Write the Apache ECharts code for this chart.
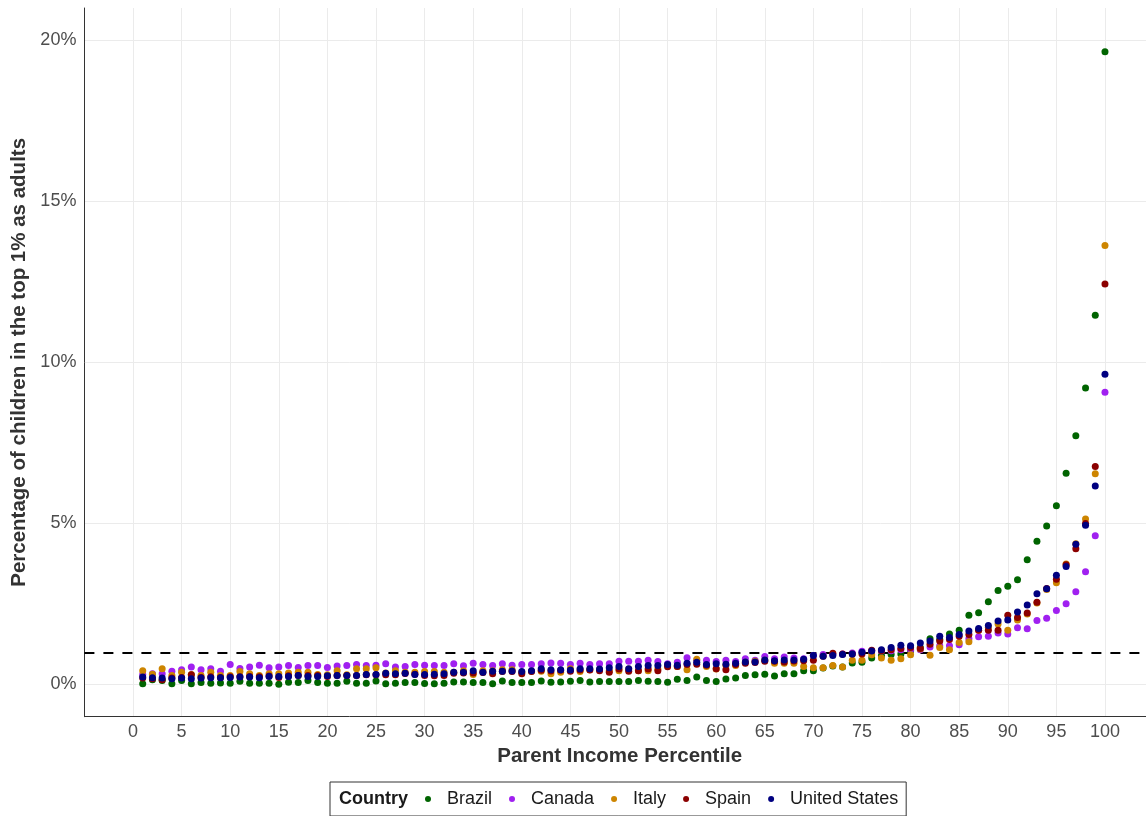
<!DOCTYPE html>
<html>
<head>
<meta charset="utf-8">
<script src="https://cdn.jsdelivr.net/npm/echarts@6/dist/echarts.min.js"></script>
<style>
html,body{margin:0;padding:0;background:#fff;}
#chart{width:1146px;height:816px;}
</style>
</head>
<body>
<div id="chart"></div>
<script>
const percentiles = [1,2,3,4,5,6,7,8,9,10,11,12,13,14,15,16,17,18,19,20,
 21,22,23,24,25,26,27,28,29,30,31,32,33,34,35,36,37,38,39,40,
 41,42,43,44,45,46,47,48,49,50,51,52,53,54,55,56,57,58,59,60,
 61,62,63,64,65,66,67,68,69,70,71,72,73,74,75,76,77,78,79,80,
 81,82,83,84,85,86,87,88,89,90,91,92,93,94,95,96,97,98,99,100];

const brazil = [0.02,0.15,0.12,0.02,0.12,0.02,0.06,0.04,0.05,0.04,
 0.10,0.04,0.04,0.04,0.01,0.07,0.06,0.12,0.06,0.04,
 0.04,0.10,0.04,0.04,0.11,0.02,0.04,0.06,0.06,0.03,
 0.02,0.04,0.08,0.08,0.06,0.06,0.02,0.11,0.06,0.06,
 0.06,0.11,0.07,0.08,0.10,0.12,0.08,0.09,0.09,0.09,
 0.09,0.12,0.10,0.09,0.07,0.16,0.12,0.23,0.12,0.09,
 0.17,0.20,0.28,0.30,0.32,0.26,0.33,0.33,0.43,0.43,
 0.51,0.57,0.54,0.67,0.69,0.82,0.90,0.93,0.95,1.05,
 1.15,1.42,1.40,1.57,1.68,2.15,2.23,2.57,2.92,3.05,
 3.25,3.87,4.45,4.92,5.55,6.56,7.72,9.20,11.46,19.64];

const canada = [0.31,0.33,0.33,0.41,0.46,0.54,0.46,0.49,0.41,0.62,
 0.50,0.54,0.60,0.52,0.54,0.59,0.53,0.59,0.59,0.53,
 0.57,0.59,0.62,0.59,0.60,0.64,0.54,0.56,0.62,0.60,
 0.59,0.59,0.64,0.58,0.66,0.62,0.59,0.64,0.60,0.62,
 0.62,0.64,0.67,0.66,0.62,0.66,0.62,0.64,0.64,0.72,
 0.72,0.72,0.75,0.71,0.64,0.69,0.83,0.75,0.75,0.71,
 0.75,0.71,0.80,0.75,0.87,0.80,0.85,0.82,0.80,0.90,
 0.93,0.93,0.95,0.98,1.03,1.04,1.04,1.05,1.08,1.08,
 1.08,1.16,1.20,1.20,1.23,1.42,1.48,1.50,1.60,1.57,
 1.76,1.73,1.99,2.06,2.30,2.51,2.88,3.50,4.62,9.07];

const italy = [0.43,0.32,0.49,0.28,0.38,0.31,0.28,0.38,0.28,0.28,
 0.40,0.33,0.28,0.33,0.33,0.36,0.38,0.38,0.31,0.30,
 0.43,0.30,0.49,0.49,0.52,0.36,0.43,0.38,0.38,0.40,
 0.40,0.38,0.38,0.43,0.31,0.43,0.43,0.46,0.46,0.38,
 0.41,0.41,0.33,0.38,0.49,0.40,0.46,0.46,0.43,0.43,
 0.48,0.43,0.43,0.48,0.59,0.56,0.46,0.78,0.56,0.48,
 0.59,0.59,0.69,0.72,0.75,0.66,0.66,0.66,0.56,0.52,
 0.52,0.59,0.54,0.75,0.75,0.92,0.82,0.75,0.80,0.92,
 1.10,0.91,1.15,1.08,1.30,1.33,1.68,1.78,1.88,1.68,
 2.00,2.19,2.53,2.95,3.16,3.74,4.37,5.14,6.54,13.63];

const spain = [0.20,0.18,0.15,0.20,0.22,0.30,0.22,0.24,0.22,0.24,
 0.24,0.25,0.24,0.26,0.22,0.27,0.28,0.28,0.28,0.25,
 0.28,0.28,0.28,0.30,0.30,0.30,0.30,0.34,0.32,0.28,
 0.27,0.28,0.35,0.36,0.36,0.37,0.33,0.40,0.40,0.33,
 0.40,0.44,0.42,0.44,0.41,0.45,0.45,0.43,0.38,0.48,
 0.41,0.43,0.48,0.43,0.55,0.56,0.62,0.63,0.60,0.49,
 0.46,0.62,0.66,0.68,0.72,0.72,0.70,0.73,0.74,0.75,
 0.88,0.97,0.95,0.95,0.95,1.06,1.05,1.08,1.12,1.15,
 1.12,1.25,1.35,1.40,1.50,1.55,1.68,1.68,1.68,2.15,
 2.08,2.22,2.55,2.98,3.27,3.72,4.21,5.00,6.77,12.43];

const unitedStates = [0.23,0.21,0.20,0.18,0.20,0.18,0.20,0.21,0.21,0.22,
 0.23,0.23,0.21,0.25,0.25,0.25,0.28,0.25,0.25,0.27,
 0.28,0.28,0.28,0.31,0.31,0.35,0.33,0.35,0.31,0.31,
 0.32,0.33,0.38,0.38,0.43,0.38,0.41,0.41,0.42,0.40,
 0.43,0.49,0.46,0.46,0.45,0.49,0.49,0.48,0.52,0.56,
 0.49,0.56,0.59,0.59,0.62,0.60,0.66,0.69,0.62,0.64,
 0.63,0.66,0.70,0.70,0.76,0.74,0.76,0.76,0.78,0.90,
 0.88,0.90,0.93,0.95,1.00,1.04,1.08,1.15,1.22,1.20,
 1.29,1.35,1.50,1.46,1.55,1.66,1.74,1.83,1.97,2.00,
 2.25,2.47,2.82,2.97,3.39,3.66,4.35,4.94,6.16,9.63];

const countries = ['Brazil','Canada','Italy','Spain','United States'];
const seriesValues = [brazil, canada, italy, spain, unitedStates];
const colors = ['#006400','#A020F0','#CD8500','#8B0000','#000080'];
const xTickLabels = [0,5,10,15,20,25,30,35,40,45,50,55,60,65,70,75,80,85,90,95,100];
const yTickLabels = [0,5,10,15,20];
const referenceLine = 1;

const FONT = '"Liberation Sans", Arial, sans-serif';

const chart = echarts.init(document.getElementById('chart'), null, {renderer:'canvas'});

const series = countries.map((name, k) => ({
  name: name,
  type: 'scatter',
  symbol: 'circle',
  symbolSize: 7,
  itemStyle: {color: colors[k], opacity: 1},
  z: 3,
  data: percentiles.map((p, i) => [p, seriesValues[k][i]])
}));

series.unshift({
  name: 'ref',
  type: 'scatter',
  data: [],
  silent: true,
  z: 1,
  markLine: {
    silent: true,
    symbol: ['none','none'],
    label: {show: false},
    z: 1,
    lineStyle: {color: '#000', width: 2, type: [10, 9]},
    data: [{yAxis: referenceLine}]
  }
});

chart.setOption({
  animation: false,
  backgroundColor: '#fff',
  color: colors,
  grid: {left: 84.4, right: 0, top: 8, bottom: 99.3, containLabel: false},
  xAxis: {
    type: 'value',
    min: -5, max: 104.22, interval: 5,
    name: 'Parent Income Percentile',
    nameLocation: 'middle',
    nameGap: 28,
    nameTextStyle: {fontFamily: FONT, fontSize: 20.5, fontWeight: 'bold', color: '#333', padding: [0, 0, 0, 9]},
    axisLine: {show: true, onZero: false, lineStyle: {color: '#333', width: 1}},
    axisTick: {show: false},
    axisLabel: {
      margin: 6, fontFamily: FONT, fontSize: 18, color: '#4D4D4D',
      showMaxLabel: false,
      formatter: v => xTickLabels.indexOf(v) >= 0 ? String(v) : ''
    },
    splitLine: {show: true, lineStyle: {color: '#EBEBEB', width: 1}}
  },
  yAxis: {
    type: 'value',
    min: -1, max: 21, interval: 1,
    name: 'Percentage of children in the top 1% as adults',
    nameLocation: 'middle',
    nameGap: 54,
    nameTextStyle: {fontFamily: FONT, fontSize: 20.5, fontWeight: 'bold', color: '#333'},
    axisLine: {show: true, onZero: false, lineStyle: {color: '#333', width: 1}},
    axisTick: {show: false},
    axisLabel: {
      margin: 8, fontFamily: FONT, fontSize: 18, color: '#4D4D4D',
      formatter: v => yTickLabels.indexOf(v) >= 0 ? v + '%' : ''
    },
    splitLine: {show: true, lineStyle: {color: ['rgba(0,0,0,0)','#EBEBEB','rgba(0,0,0,0)','rgba(0,0,0,0)','rgba(0,0,0,0)'], width: 1}}
  },
  legend: {
    data: countries,
    left: 330,
    top: 782,
    orient: 'horizontal',
    icon: 'circle',
    itemWidth: 6,
    itemHeight: 6,
    itemGap: 17,
    padding: [8, 8, 8, 95],
    borderColor: '#333',
    borderWidth: 1,
    textStyle: {fontFamily: FONT, fontSize: 18, color: '#1a1a1a', padding: [0, 0, 0, 11]},
    selectedMode: false
  },
  graphic: [{
    type: 'text',
    left: 339,
    top: 790,
    style: {text: 'Country', font: 'bold 18px ' + FONT, fill: '#1a1a1a'}
  }],
  series: series
});
</script>
</body>
</html>
